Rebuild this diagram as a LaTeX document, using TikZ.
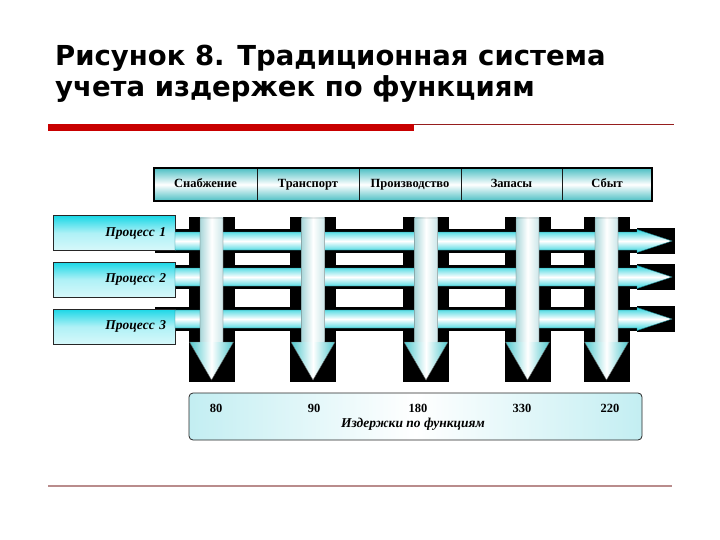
\documentclass[tikz,border=0pt]{standalone}
\usepackage{fontspec}
\setmainfont{Liberation Serif}
\newfontfamily\titlefont{DejaVu Sans}
\definecolor{hcyan}{RGB}{45,210,220}
\definecolor{hedge}{RGB}{20,120,130}
\definecolor{vedge}{RGB}{170,215,218}
\definecolor{vhead}{RGB}{80,200,205}
\definecolor{hdrteal}{RGB}{75,190,195}
\definecolor{boxcyan}{RGB}{25,215,230}
\definecolor{boxlow}{RGB}{215,248,250}
\definecolor{palecyan}{RGB}{195,238,242}
\definecolor{redbar}{RGB}{200,0,0}
\definecolor{thinred}{RGB}{150,30,30}
\definecolor{botline}{RGB}{185,140,140}
\tikzset{
  hdrcell/.style={draw=black!90, line width=0.9pt, top color=hdrteal, bottom color=hdrteal, middle color=white,
    minimum height=33pt, inner sep=0pt, text height=8.5pt, text depth=2.5pt, font=\bfseries\fontsize{12.5}{14}\selectfont},
  procbox/.style={draw=black!85, line width=0.7pt, top color=boxcyan, bottom color=boxlow, middle color=boxcyan!35!white,
    minimum height=35pt, text width=104pt, inner xsep=9pt, inner ysep=0pt, align=right,
    font=\bfseries\itshape\fontsize{13.5}{15}\selectfont},
  shadowblk/.style={fill=black},
  harrow/.style={top color=hcyan, bottom color=hcyan, middle color=white, draw=hedge, line width=0.4pt},
  vshaft/.style={left color=vedge, right color=vedge!60!white, middle color=white},
  vheadst/.style={left color=vhead, right color=vhead, middle color=white},
  numtxt/.style={font=\bfseries\fontsize{12.5}{14}\selectfont, inner sep=0pt},
  titletxt/.style={anchor=base west, inner sep=0pt, font=\titlefont\bfseries\fontsize{27.5}{30}\selectfont}
}
\begin{document}
\begin{tikzpicture}[x=1pt,y=-1pt]
\useasboundingbox (0,0) rectangle (720,540);
% title
\node[titletxt] (t1) at (55,66) {Рисунок 8. Традиционная система};
\node[titletxt] (t2) at (55,97) {учета издержек по функциям};
% rules
\fill[redbar] (48,124) rectangle (414,131);
\draw[thinred, line width=0.8pt] (414,124) -- (674,124);
\draw[botline, line width=2pt] (48,486) -- (672,486);
% header
\node[hdrcell, minimum width=103pt] (h1) at (205.5,184.5) {Снабжение};
\node[hdrcell, minimum width=102pt] (h2) at (308,184.5) {Транспорт};
\node[hdrcell, minimum width=102pt] (h3) at (410,184.5) {Производство};
\node[hdrcell, minimum width=101pt] (h4) at (511.5,184.5) {Запасы};
\node[hdrcell, minimum width=90pt] (h5) at (607,184.5) {Сбыт};
\draw[black, line width=2pt] (h1.north west) rectangle (h5.south east);
% black shadows of horizontal arrows
\foreach \c in {241,277,319}{
  \fill[shadowblk] (155,\c-12) rectangle (637,\c+12);
  \fill[shadowblk] (637,\c-13) rectangle (675,\c+13);
}
% black shadows of vertical arrows
\foreach \c in {211.5,313,426,527.5,606.5}{
  \fill[shadowblk] (\c-23,217) rectangle (\c+23,382);
}
% process boxes
\node[procbox, minimum width=122pt] (p1) at (114,233) {Процесс 1};
\node[procbox, minimum width=122pt] (p2) at (114,279.5) {Процесс 2};
\node[procbox, minimum width=122pt] (p3) at (114,326.5) {Процесс 3};
% horizontal arrows
\foreach \c in {241,277,319}{
  \path[harrow] (175,\c-9) -- (637,\c-9) -- (637,\c-11.5) -- (672,\c) -- (637,\c+11.5) -- (637,\c+9) -- (175,\c+9) -- cycle;
}
% vertical arrows
\foreach \c in {211.5,313,426,527.5,606.5}{
  \path[vshaft] (\c-11.5,218) rectangle (\c+11.5,343);
  \path[vheadst] (\c-22,342) -- (\c+22,342) -- (\c,380) -- cycle;
  \draw[gray!70!black, line width=0.4pt] (\c-11.5,218) -- (\c+11.5,218) -- (\c+11.5,342) -- (\c+22,342) -- (\c,380) -- (\c-22,342) -- (\c-11.5,342) -- cycle;
}
% cost box
\path[draw=black!85, line width=0.8pt, rounded corners=4pt, left color=palecyan, right color=palecyan, middle color=white]
  (189,393) rectangle (642,440);
\node[numtxt] (n1) at (216,408) {80};
\node[numtxt] (n2) at (314,408) {90};
\node[numtxt] (n3) at (418,408) {180};
\node[numtxt] (n4) at (522,408) {330};
\node[numtxt] (n5) at (610,408) {220};
\node[font=\bfseries\itshape\fontsize{13.5}{15}\selectfont, inner sep=0pt] (cost) at (413,424) {Издержки по функциям};
\end{tikzpicture}
\end{document}
